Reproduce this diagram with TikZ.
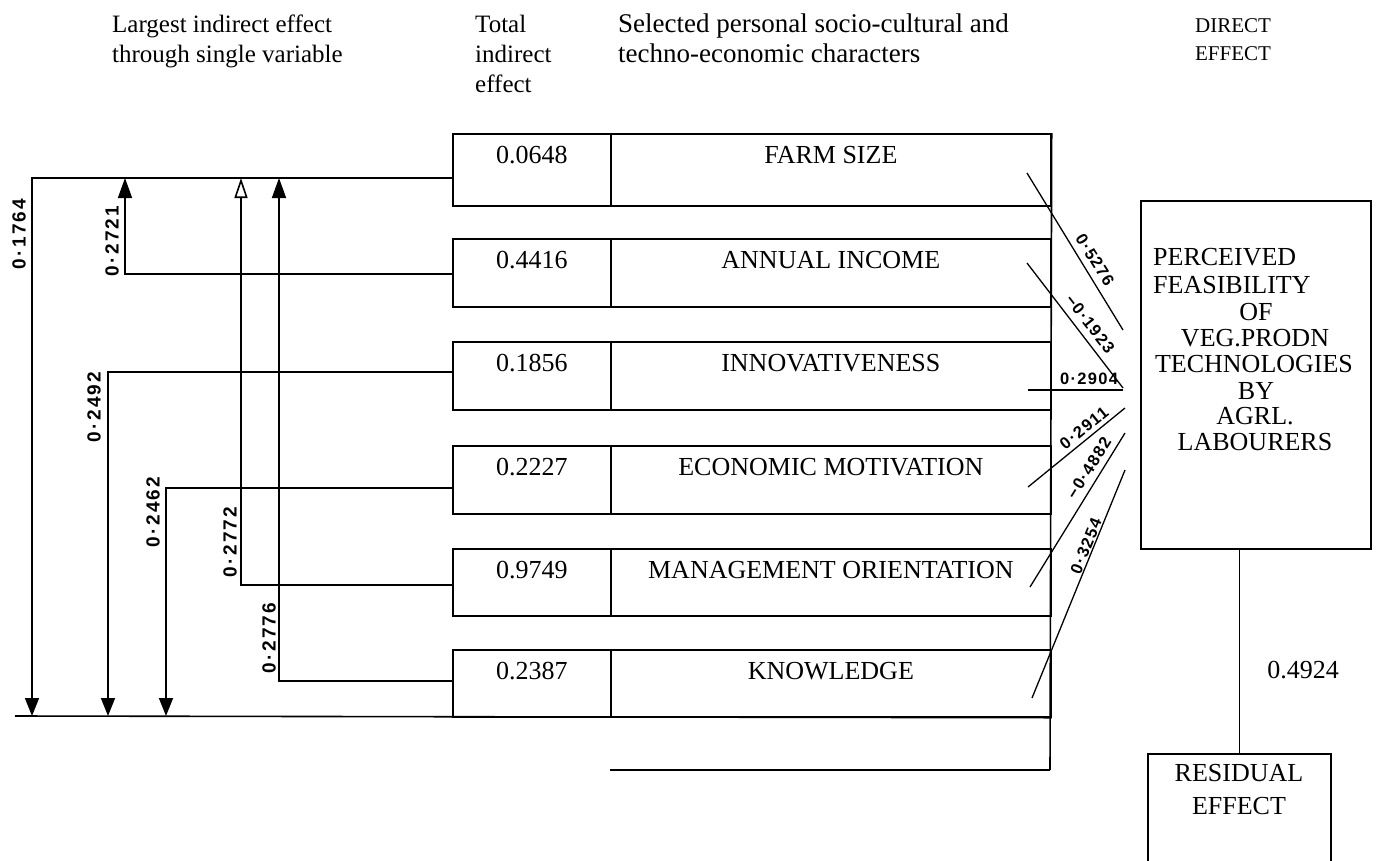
\documentclass[tikz,border=0pt]{standalone}
\usepackage{fontspec}
\setmainfont{Liberation Serif}
\newfontfamily\handfont[LetterSpace=12]{Liberation Sans}
\newfontfamily\handfontd[LetterSpace=8]{Liberation Sans}
\usetikzlibrary{arrows.meta,calc}
\begin{document}
\begin{tikzpicture}[x=1pt,y=-1pt,
  cell/.style={draw,line width=1.7pt,inner sep=0pt,anchor=north west},
  boxtxt/.style={font=\fontsize{26}{26}\selectfont,inner sep=0pt},
  hdr/.style={font=\fontsize{25}{30}\selectfont,align=left,anchor=north west,inner sep=0pt},
  rtxt/.style={font=\fontsize{26}{26}\selectfont,inner sep=0pt},
  hand/.style={font=\handfont\bfseries\fontsize{19}{19}\selectfont,inner sep=0pt},
  handd/.style={font=\handfontd\bfseries\fontsize{16.5}{16.5}\selectfont,inner sep=0pt},
  conn/.style={line width=1.6pt},
  thin/.style={line width=1.3pt},
  upfill/.style={-{Triangle[width=14pt,length=20pt]}},
  upopen/.style={-{Triangle[open,width=13pt,length=20pt,line width=1.6pt]}},
  downfill/.style={-{Triangle[width=14pt,length=18pt]}}]
\useasboundingbox (0,0) rectangle (1378,860);

% headers
\node[hdr] (h1) at (112,15) {Largest indirect effect\\through single variable};
\node[hdr] (h2) at (475,15) {Total\\indirect\\effect};
\node[hdr,font=\fontsize{27}{30}\selectfont] (h3) at (618,14) {Selected personal socio-cultural and\\techno-economic characters};
\node[hdr,font=\fontsize{21}{28}\selectfont,align=center,anchor=north] (h4) at (1233,18) {DIRECT\\EFFECT};

% rows
\foreach \i/\top/\h/\d/\num/\name in {
  1/133/72/45/0.0648/FARM SIZE,
  2/238/68/36/0.4416/ANNUAL INCOME,
  3/341/68/31/0.1856/INNOVATIVENESS,
  4/445/68/43/0.2227/ECONOMIC MOTIVATION,
  5/548/67/37/0.9749/MANAGEMENT ORIENTATION,
  6/649/67/32/0.2387/KNOWLEDGE}{
  \node[cell,minimum width=158,minimum height=\h] (n\i) at (452,\top) {};
  \node[cell,minimum width=440,minimum height=\h] (l\i) at (610,\top) {};
  \node[boxtxt] (nt\i) at ($(n\i.north)+(0,22)$) {\num};
  \node[boxtxt] (lt\i) at ($(l\i.north)+(0,22)$) {\name};
  \coordinate (c\i) at ($(n\i.north west)+(0,\d)$);
}

% right frame lines
\coordinate (vr) at (1050,770);
\coordinate (hl) at (610,770);
\draw[conn] (l1.north east) -- (vr);
\draw[conn] (hl) -- (vr);

% indirect effect connectors
\coordinate (b1) at (32,716);
\coordinate (b3) at (108,716);
\coordinate (b4) at (166,716);
\coordinate (t2) at (125,178);
\coordinate (t5) at (241,178);
\coordinate (t6) at (279,178);
\coordinate (bl) at (15,716);
\draw[conn] (bl) -- (l6.south east);
\draw[conn,downfill] (c1) -| (b1);
\draw[conn,upfill] (c2) -| (t2);
\draw[conn,downfill] (c3) -| (b3);
\draw[conn,downfill] (c4) -| (b4);
\draw[conn,upopen] (c5) -| (t5);
\draw[conn,upfill] (c6) -| (t6);

\node[hand,rotate=90] (v1) at (19,234) {0·1764};
\node[hand,rotate=90] (v2) at (112,241) {0·2721};
\node[hand,rotate=90] (v3) at (94,407) {0·2492};
\node[hand,rotate=90] (v4) at (153,512) {0·2462};
\node[hand,rotate=90] (v5) at (230,542) {0·2772};
\node[hand,rotate=90] (v6) at (269,638) {0·2776};

% dependent variable box
\node[draw,line width=1.6pt,minimum width=230,minimum height=348,anchor=north west] (pf) at (1140,200) {};
\node[rtxt,anchor=west] (p1) at (1153,257) {PERCEIVED};
\node[rtxt,anchor=west] (p2) at (1153,285) {FEASIBILITY};
\node[rtxt] (p3) at (1256,312) {OF};
\node[rtxt] (p4) at (1255,338) {VEG.PRODN};
\node[rtxt] (p5) at (1254,364) {TECHNOLOGIES};
\node[rtxt] (p6) at (1256,391) {BY};
\node[rtxt] (p7) at (1255,416) {AGRL.};
\node[rtxt] (p8) at (1255,442) {LABOURERS};

% residual
\node[draw,line width=1.6pt,minimum width=183,minimum height=125,anchor=north west] (res) at (1147,753) {};
\node[rtxt] (r1) at (1239,773) {RESIDUAL};
\node[rtxt] (r2) at (1239,806) {EFFECT};
\draw[conn] (pf.south -| res.north) -- (res.north);
\node[rtxt] (rv) at (1303,670) {0.4924};

% direct effect lines
\foreach \j/\ax/\ay/\bx/\by in {1/1027/173/1123/330, 2/1027/263/1123/388, 3/1028/390/1123/390,
  4/1028/487/1125/408, 5/1030/587/1125/433, 6/1032/698/1125/470}{
  \coordinate (ds\j) at (\ax,\ay);
  \coordinate (de\j) at (\bx,\by);
  \draw[thin] (ds\j) -- (de\j);
}
\node[handd,rotate=-58] (w1) at (1095,260) {0·5276};
\node[handd,rotate=-52] (w2) at (1090,324) {−0·1923};
\node[handd] (w3) at (1089,379) {0·2904};
\node[handd,rotate=39] (w4) at (1084,428) {0·2911};
\node[handd,rotate=58] (w5) at (1089,468) {−0·4882};
\node[handd,rotate=68] (w6) at (1086,546) {0·3254};
\end{tikzpicture}
\end{document}
